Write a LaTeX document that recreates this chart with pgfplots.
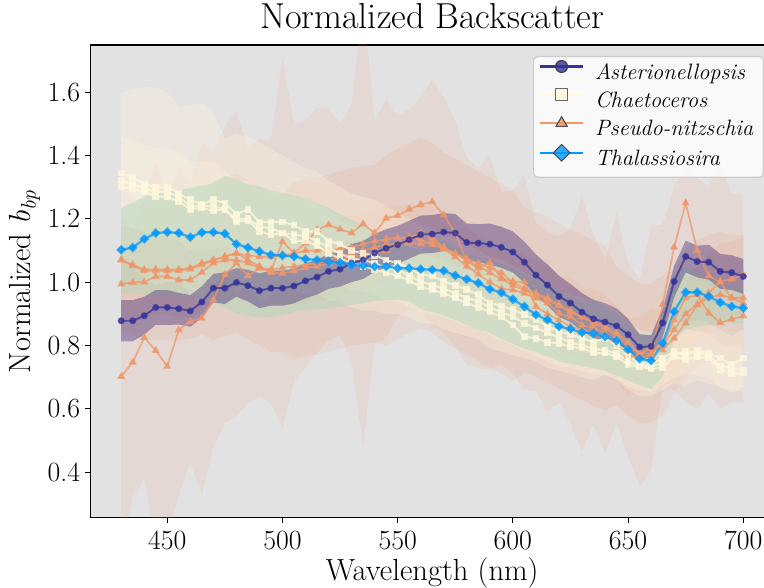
\documentclass[border=0pt]{standalone}
\usepackage{fontspec}
\usepackage{pgfplots}
\pgfplotsset{compat=1.18}
\usepackage{pgfplotstable}
\usepgfplotslibrary{fillbetween}

\definecolor{bgc}{RGB}{226,226,226}
\definecolor{astc}{RGB}{51,51,153}
\definecolor{astband}{RGB}{70,45,125}
\definecolor{chac}{RGB}{255,248,220}
\definecolor{chaband}{RGB}{255,244,222}
\definecolor{psec}{RGB}{240,150,105}
\definecolor{thac}{RGB}{0,153,255}
\definecolor{thaband}{RGB}{165,215,185}

% Asterionellopsis: mean, lower, upper
\pgfplotstableread{
wl mean lo hi
430 0.878 0.813 0.943
435 0.878 0.813 0.943
440 0.894 0.834 0.954
445 0.920 0.865 0.975
450 0.920 0.865 0.975
455 0.916 0.866 0.966
460 0.909 0.859 0.959
465 0.937 0.887 0.987
470 0.981 0.936 1.026
475 0.981 0.931 1.031
480 0.999 0.954 1.044
485 0.989 0.939 1.039
490 0.973 0.918 1.028
495 0.981 0.926 1.036
500 0.981 0.926 1.036
505 0.988 0.933 1.043
510 1.004 0.949 1.059
515 1.016 0.961 1.071
520 1.034 0.979 1.089
525 1.041 0.986 1.096
530 1.060 1.000 1.120
535 1.070 1.010 1.130
540 1.092 1.032 1.152
545 1.107 1.047 1.167
550 1.118 1.058 1.178
555 1.134 1.074 1.194
560 1.150 1.090 1.210
565 1.152 1.092 1.212
570 1.158 1.098 1.218
575 1.155 1.095 1.215
580 1.125 1.065 1.185
585 1.123 1.063 1.183
590 1.120 1.055 1.185
595 1.110 1.045 1.175
600 1.095 1.030 1.160
605 1.063 0.998 1.128
610 1.022 0.957 1.087
615 0.991 0.926 1.056
620 0.955 0.890 1.020
625 0.934 0.874 0.994
630 0.905 0.845 0.965
635 0.884 0.824 0.944
640 0.874 0.814 0.934
645 0.862 0.807 0.917
650 0.834 0.784 0.884
655 0.795 0.755 0.835
660 0.797 0.762 0.832
665 0.871 0.826 0.916
670 1.002 0.952 1.052
675 1.081 1.031 1.131
680 1.065 1.015 1.115
685 1.063 1.008 1.118
690 1.034 0.979 1.089
695 1.030 0.975 1.085
700 1.018 0.963 1.073
}\ast

% Thalassiosira: mean, lower, upper
\pgfplotstableread{
wl mean lo hi
430 1.102 0.965 1.234
435 1.109 0.965 1.250
440 1.136 0.960 1.270
445 1.155 0.958 1.280
450 1.158 0.955 1.286
455 1.155 0.955 1.290
460 1.142 0.952 1.297
465 1.157 0.945 1.305
470 1.158 0.934 1.313
475 1.153 0.920 1.336
480 1.120 0.902 1.323
485 1.109 0.894 1.310
490 1.097 0.886 1.302
495 1.086 0.890 1.290
500 1.084 0.897 1.281
505 1.081 0.905 1.273
510 1.073 0.910 1.265
515 1.070 0.913 1.250
520 1.065 0.918 1.234
525 1.062 0.922 1.215
530 1.055 0.928 1.197
535 1.052 0.934 1.180
540 1.049 0.940 1.160
545 1.049 0.944 1.140
550 1.044 0.944 1.125
555 1.044 0.940 1.110
560 1.041 0.915 1.102
565 1.039 0.905 1.120
570 1.036 0.895 1.134
575 1.021 0.880 1.115
580 1.009 0.865 1.092
585 0.997 0.850 1.080
590 0.978 0.840 1.070
595 0.967 0.820 1.060
600 0.946 0.805 1.045
605 0.923 0.790 1.025
610 0.897 0.780 1.007
615 0.881 0.765 0.990
620 0.860 0.750 0.970
625 0.852 0.742 0.955
630 0.841 0.735 0.944
635 0.839 0.728 0.937
640 0.828 0.720 0.925
645 0.815 0.705 0.902
650 0.788 0.690 0.870
655 0.758 0.675 0.839
660 0.752 0.662 0.835
665 0.807 0.702 0.900
670 0.907 0.818 1.028
675 0.968 0.849 1.049
680 0.968 0.860 1.040
685 0.955 0.865 1.020
690 0.936 0.870 0.998
695 0.923 0.870 0.990
700 0.918 0.871 0.981
}\tha

% Chaetoceros: three samples, two bands
\pgfplotstableread{
wl c1 c2 c3 bAlo bAhi bBlo bBhi
430 1.345 1.32 1.30 1.09 1.597 1.18 1.46
435 1.33 1.31 1.295 1.05 1.61 1.17 1.45
440 1.31 1.295 1.285 1.01 1.616 1.155 1.435
445 1.30 1.285 1.27 0.99 1.615 1.145 1.425
450 1.30 1.285 1.27 1.0 1.60 1.145 1.425
455 1.28 1.27 1.255 1.0 1.554 1.13 1.41
460 1.26 1.24 1.23 0.96 1.56 1.10 1.38
465 1.245 1.24 1.235 0.93 1.567 1.10 1.38
470 1.26 1.24 1.225 0.98 1.534 1.10 1.38
475 1.25 1.23 1.23 1.04 1.456 1.11 1.35
480 1.215 1.20 1.19 0.96 1.468 1.08 1.32
485 1.23 1.20 1.195 1.0 1.46 1.08 1.32
490 1.19 1.175 1.16 0.94 1.44 1.055 1.295
495 1.19 1.17 1.15 0.96 1.42 1.05 1.29
500 1.19 1.155 1.155 0.98 1.40 1.035 1.275
505 1.18 1.15 1.13 0.98 1.38 1.03 1.27
510 1.16 1.145 1.13 0.96 1.36 1.025 1.265
515 1.16 1.13 1.115 0.97 1.35 1.01 1.25
520 1.13 1.11 1.09 0.94 1.32 0.99 1.23
525 1.12 1.09 1.075 0.94 1.30 0.99 1.19
530 1.10 1.075 1.06 0.92 1.28 0.975 1.175
535 1.09 1.07 1.05 0.91 1.27 0.97 1.17
540 1.085 1.06 1.04 0.91 1.26 0.96 1.16
545 1.07 1.045 1.03 0.90 1.24 0.945 1.145
550 1.06 1.04 1.02 0.90 1.22 0.94 1.14
555 1.045 1.02 1.005 0.89 1.20 0.92 1.12
560 1.023 1.002 0.985 0.87 1.18 0.902 1.102
565 1.02 0.99 0.975 0.87 1.17 0.90 1.08
570 1.002 0.98 0.965 0.85 1.15 0.89 1.07
575 0.99 0.965 0.95 0.84 1.14 0.875 1.055
580 0.976 0.95 0.934 0.83 1.12 0.86 1.04
585 0.96 0.94 0.92 0.82 1.10 0.85 1.03
590 0.934 0.92 0.907 0.79 1.08 0.83 1.01
595 0.925 0.905 0.89 0.78 1.07 0.815 0.995
600 0.913 0.891 0.865 0.77 1.05 0.801 0.981
605 0.897 0.87 0.828 0.76 1.03 0.78 0.96
610 0.881 0.855 0.823 0.75 1.01 0.765 0.945
615 0.86 0.84 0.81 0.73 0.99 0.75 0.93
620 0.844 0.825 0.807 0.72 0.97 0.735 0.915
625 0.835 0.81 0.795 0.71 0.96 0.73 0.89
630 0.823 0.80 0.792 0.70 0.95 0.72 0.88
635 0.81 0.79 0.776 0.69 0.93 0.71 0.87
640 0.823 0.785 0.776 0.71 0.94 0.705 0.865
645 0.80 0.775 0.765 0.69 0.91 0.695 0.855
650 0.765 0.75 0.739 0.66 0.87 0.67 0.83
655 0.745 0.738 0.733 0.64 0.85 0.658 0.818
660 0.74 0.733 0.726 0.64 0.84 0.653 0.813
665 0.76 0.745 0.73 0.66 0.86 0.675 0.815
670 0.781 0.77 0.765 0.68 0.88 0.70 0.84
675 0.77 0.78 0.755 0.67 0.87 0.71 0.85
680 0.785 0.775 0.765 0.69 0.88 0.705 0.845
685 0.775 0.77 0.76 0.68 0.87 0.70 0.84
690 0.76 0.735 0.725 0.67 0.85 0.665 0.805
695 0.74 0.73 0.71 0.65 0.83 0.66 0.80
700 0.76 0.723 0.713 0.67 0.85 0.653 0.793
}\cha

% Pseudo-nitzschia: four samples, three bands
\pgfplotstableread{
wl pa pb pc pd palo pahi pblo pbhi pclo pchi
430 0.702 1.07 0.994 1.07 0.15 1.20 0.85 1.29 0.874 1.114
435 0.747 1.052 0.999 1.055 0.32 1.17 0.83 1.27 0.879 1.119
440 0.825 1.036 1.0 1.04 0.38 1.27 0.816 1.256 0.88 1.12
445 0.784 1.036 1.018 1.04 0.18 1.38 0.816 1.256 0.898 1.138
450 0.734 1.036 1.018 1.04 0.18 1.28 0.816 1.256 0.898 1.138
455 0.849 1.036 1.007 1.04 0.33 1.36 0.816 1.256 0.887 1.127
460 0.876 1.041 1.007 1.045 0.43 1.32 0.821 1.261 0.887 1.127
465 0.886 1.055 1.031 1.06 0.33 1.44 0.835 1.275 0.911 1.151
470 0.944 1.068 1.06 1.07 0.48 1.41 0.818 1.318 0.94 1.18
475 1.023 1.081 1.07 1.08 0.555 1.49 0.831 1.331 0.95 1.19
480 1.06 1.092 1.07 1.09 0.576 1.54 0.842 1.342 0.95 1.19
485 1.02 1.07 1.06 1.085 0.618 1.42 0.82 1.32 0.94 1.18
490 1.044 1.05 1.045 1.08 0.639 1.45 0.80 1.30 0.925 1.165
495 1.034 1.03 1.04 1.08 0.618 1.45 0.78 1.28 0.92 1.16
500 1.128 1.028 1.045 1.086 0.539 1.71 0.778 1.278 0.925 1.165
505 1.092 1.035 1.05 1.09 0.686 1.50 0.755 1.315 0.93 1.17
510 1.123 1.045 1.055 1.10 0.734 1.51 0.765 1.325 0.935 1.175
515 1.165 1.05 1.06 1.10 0.776 1.55 0.77 1.33 0.94 1.18
520 1.181 1.06 1.07 1.10 0.816 1.55 0.78 1.34 0.95 1.19
525 1.167 1.07 1.08 1.105 0.832 1.50 0.79 1.35 0.96 1.20
530 1.155 1.08 1.09 1.11 0.745 1.565 0.80 1.36 0.97 1.21
535 1.184 1.085 1.10 1.12 0.485 1.89 0.805 1.365 0.98 1.22
540 1.155 1.09 1.11 1.13 0.803 1.51 0.81 1.37 0.99 1.23
545 1.202 1.10 1.12 1.135 0.826 1.576 0.80 1.40 1.0 1.24
550 1.21 1.12 1.12 1.14 0.89 1.528 0.82 1.42 1.0 1.24
555 1.23 1.14 1.125 1.14 0.916 1.544 0.84 1.44 1.005 1.245
560 1.245 1.155 1.12 1.134 0.904 1.586 0.855 1.455 1.0 1.24
565 1.254 1.14 1.13 1.118 0.869 1.639 0.84 1.44 1.01 1.25
570 1.212 1.11 1.105 1.107 0.838 1.586 0.81 1.41 0.985 1.225
575 1.155 1.09 1.08 1.09 0.798 1.512 0.79 1.39 0.96 1.20
580 1.065 1.07 1.05 1.075 0.738 1.392 0.77 1.37 0.93 1.17
585 1.044 1.05 1.025 1.06 0.728 1.36 0.75 1.35 0.905 1.145
590 1.062 1.03 1.0 1.045 0.724 1.40 0.73 1.33 0.88 1.12
595 1.013 1.01 0.98 1.03 0.74 1.286 0.71 1.31 0.86 1.10
600 1.002 0.99 0.975 1.0 0.714 1.29 0.69 1.29 0.855 1.095
605 1.0 0.975 0.965 0.98 0.661 1.339 0.715 1.235 0.845 1.085
610 0.923 0.96 0.949 0.965 0.656 1.19 0.70 1.22 0.829 1.069
615 0.90 0.945 0.934 0.95 0.59 1.155 0.685 1.205 0.814 1.054
620 0.88 0.925 0.902 0.93 0.62 1.144 0.665 1.185 0.782 1.022
625 0.86 0.905 0.891 0.91 0.55 1.17 0.645 1.165 0.771 1.011
630 0.85 0.89 0.865 0.89 0.465 1.27 0.63 1.15 0.745 0.985
635 0.84 0.87 0.855 0.875 0.55 1.15 0.61 1.13 0.735 0.975
640 0.83 0.855 0.839 0.86 0.46 1.07 0.595 1.115 0.719 0.959
645 0.80 0.83 0.807 0.84 0.556 1.218 0.61 1.05 0.687 0.927
650 0.77 0.80 0.765 0.81 0.45 1.06 0.58 1.02 0.645 0.885
655 0.76 0.775 0.77 0.775 0.355 1.007 0.555 0.995 0.65 0.89
660 0.77 0.775 0.797 0.79 0.407 1.176 0.555 0.995 0.677 0.917
665 0.93 0.80 0.786 0.80 0.67 1.181 0.58 1.02 0.666 0.906
670 1.11 0.85 0.823 0.88 0.66 1.30 0.65 1.05 0.703 0.943
675 1.25 0.90 0.871 0.95 0.62 1.36 0.70 1.10 0.751 0.991
680 1.10 0.93 0.928 0.96 0.60 1.33 0.73 1.13 0.808 1.048
685 1.02 0.95 0.965 0.902 0.65 1.302 0.75 1.15 0.845 1.085
690 1.0 0.96 1.002 0.872 0.60 1.365 0.76 1.16 0.882 1.122
695 0.95 0.95 1.009 0.883 0.62 1.281 0.75 1.15 0.889 1.129
700 0.934 0.95 1.023 0.893 0.62 1.276 0.75 1.15 0.903 1.143
}\pse

\pgfplotsset{
  astline/.style={color=astc, line width=1.4pt, opacity=0.75, mark=*, mark size=1.8pt, mark options={solid, fill=astc, draw=astc}},
  chaline/.style={color=chac, line width=1.4pt, opacity=0.75, mark=square*, mark size=1.7pt, mark options={solid, fill=chac, draw=chac}},
  pseline/.style={color=psec, line width=1.2pt, opacity=0.75, mark=triangle*, mark size=2.2pt, mark options={solid, fill=psec, draw=psec}},
  thaline/.style={color=thac, line width=1.6pt, opacity=0.75, mark=square*, mark size=1.7pt, mark options={solid, rotate=45, fill=thac, draw=thac}},
}

\begin{document}
\begin{tikzpicture}
\begin{axis}[
  scale only axis, width=492.7pt, height=340.4pt,
  xmin=416.5, xmax=713.5, ymin=0.256, ymax=1.749,
  axis background/.style={fill=bgc},
  axis line style={line width=0.8pt, black},
  tick align=outside, tick pos=left,
  major tick length=3.5pt,
  every tick/.style={black, line width=0.8pt},
  xtick={450,500,550,600,650,700},
  ytick={0.4,0.6,0.8,1.0,1.2,1.4,1.6},
  /pgf/number format/assume math mode=true,
  tick label style={font=\fontsize{20}{24}\selectfont},
  xticklabel style={anchor=base, yshift=-19.3pt},
  yticklabel style={/pgf/number format/fixed, /pgf/number format/fixed zerofill, /pgf/number format/precision=1, anchor=east, inner sep=0pt, xshift=-3.5pt},
  label style={font=\fontsize{22}{26}\selectfont},
  title style={at={(axis description cs:0.5,1)}, anchor=base, yshift=5.5pt},
  title={\fontsize{26}{30}\selectfont Normalized Backscatter},
  xlabel={Wavelength (nm)},
  xlabel style={at={(axis description cs:0.5,0)}, anchor=base, yshift=-45.4pt},
  ylabel={Normalized \textit{b}\textsubscript{\textit{bp}}},
  ylabel style={at={([xshift=-42.6pt]axis description cs:0,0.5)}, anchor=base},
  legend cell align=left,
  legend image code/.code={
    \draw[mark repeat=2, mark phase=2, #1] plot coordinates {(0pt,5.2pt) (15.35pt,5.2pt) (30.7pt,5.2pt)};
    \path (35.8pt,0pt);
  },
  legend style={at={(1,1)}, anchor=north east, xshift=-7.6pt, yshift=-7.9pt,
    fill=white, fill opacity=0.8, draw opacity=1, text opacity=1,
    draw=black!20, line width=0.8pt, rounded corners=3pt,
    font=\fontsize{16}{19}\selectfont,
    inner xsep=4pt, inner ysep=2.2pt, row sep=0pt,
    nodes={inner xsep=3pt, inner ysep=2.8pt, text height=11.4pt, text depth=3.4pt}},
]
\coordinate (bbsw) at (axis cs:377.4,0.035);
\coordinate (bbne) at (axis cs:709.0,1.891);

% Pseudo-nitzschia bands
\addplot[name path=pahi, draw=none, forget plot] table[x=wl,y=pahi]{\pse};
\addplot[name path=palo, draw=none, forget plot] table[x=wl,y=palo]{\pse};
\addplot[fill=psec, fill opacity=0.12, draw=none, forget plot] fill between[of=pahi and palo];
\addplot[name path=pbhi, draw=none, forget plot] table[x=wl,y=pbhi]{\pse};
\addplot[name path=pblo, draw=none, forget plot] table[x=wl,y=pblo]{\pse};
\addplot[fill=psec, fill opacity=0.12, draw=none, forget plot] fill between[of=pbhi and pblo];
\addplot[name path=pchi, draw=none, forget plot] table[x=wl,y=pchi]{\pse};
\addplot[name path=pclo, draw=none, forget plot] table[x=wl,y=pclo]{\pse};
\addplot[fill=psec, fill opacity=0.12, draw=none, forget plot] fill between[of=pchi and pclo];

% Chaetoceros bands
\addplot[name path=cahi, draw=none, forget plot] table[x=wl,y=bAhi]{\cha};
\addplot[name path=calo, draw=none, forget plot] table[x=wl,y=bAlo]{\cha};
\addplot[fill=chaband, fill opacity=0.32, draw=none, forget plot] fill between[of=cahi and calo];
\addplot[name path=cbhi, draw=none, forget plot] table[x=wl,y=bBhi]{\cha};
\addplot[name path=cblo, draw=none, forget plot] table[x=wl,y=bBlo]{\cha};
\addplot[fill=chaband, fill opacity=0.3, draw=none, forget plot] fill between[of=cbhi and cblo];

% Thalassiosira band
\addplot[name path=thhi, draw=none, forget plot] table[x=wl,y=hi]{\tha};
\addplot[name path=thlo, draw=none, forget plot] table[x=wl,y=lo]{\tha};
\addplot[fill=thaband, fill opacity=0.4, draw=none, forget plot] fill between[of=thhi and thlo];

% Asterionellopsis band
\addplot[name path=ashi, draw=none, forget plot] table[x=wl,y=hi]{\ast};
\addplot[name path=aslo, draw=none, forget plot] table[x=wl,y=lo]{\ast};
\addplot[fill=astband, fill opacity=0.42, draw=none, forget plot] fill between[of=ashi and aslo];

% lines
\addplot[pseline, forget plot] table[x=wl,y=pa]{\pse};
\addplot[pseline, forget plot] table[x=wl,y=pb]{\pse};
\addplot[pseline, forget plot] table[x=wl,y=pc]{\pse};
\addplot[pseline, forget plot] table[x=wl,y=pd]{\pse};
\addplot[chaline, forget plot] table[x=wl,y=c1]{\cha};
\addplot[chaline, forget plot] table[x=wl,y=c2]{\cha};
\addplot[chaline, forget plot] table[x=wl,y=c3]{\cha};
\addplot[astline, forget plot] table[x=wl,y=mean]{\ast};
\addplot[thaline, forget plot] table[x=wl,y=mean]{\tha};

% legend
\addlegendimage{color=astc, line width=1.5pt, mark=*, mark size=4.3pt, mark options={solid, fill=astc, draw=black!75, line width=0.8pt}}
\addlegendentry{\textit{Asterionellopsis}}
\addlegendimage{color=chac, line width=1.5pt, mark=square*, mark size=4.3pt, mark options={solid, fill=chac, draw=black!60, line width=0.8pt}}
\addlegendentry{\textit{Chaetoceros}}
\addlegendimage{color=psec, line width=1.5pt, mark=triangle*, mark size=4.6pt, mark options={solid, fill=psec, draw=black!70, line width=0.8pt}}
\addlegendentry{\textit{Pseudo-nitzschia}}
\addlegendimage{color=thac, line width=1.5pt, mark=square*, mark size=4.2pt, mark options={solid, rotate=45, fill=thac, draw=black!70, line width=0.8pt}}
\addlegendentry{\textit{Thalassiosira}}
\end{axis}
\pgfresetboundingbox
\useasboundingbox (bbsw) rectangle (bbne);
\end{tikzpicture}
\end{document}
